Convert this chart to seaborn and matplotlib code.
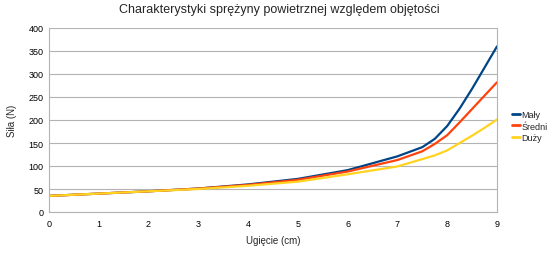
import matplotlib
matplotlib.use("Agg")
import matplotlib.pyplot as plt
import seaborn as sns
import pandas as pd

x_cm = [0, 1, 2, 3, 4, 5, 6, 7, 7.5, 7.75, 8, 8.25, 8.5, 8.75, 9]
maly = [35, 40, 45, 51, 60, 72, 91, 121, 141, 159, 187, 225, 268, 314, 360]
sredni = [35, 40, 45, 51, 59, 70, 88, 113, 132, 148, 167, 195, 224, 253, 282]
duzy = [35, 40, 45, 50, 57, 66, 82, 99, 115, 123, 134, 150, 166, 183, 201]
series_names = ["Mały", "Średni", "Duży"]
colors = ["#004586", "#ff420e", "#ffd320"]

df = pd.concat([
    pd.DataFrame({"x": x_cm, "y": vals, "s": name})
    for name, vals in zip(series_names, [maly, sredni, duzy])
])

sns.set_theme(style="white")
plt.rcParams["font.family"] = ["Liberation Sans", "DejaVu Sans"]

fig = plt.figure(figsize=(5.59, 2.55), dpi=100)
ax = fig.add_axes([49 / 559, 1 - 213 / 255, 448 / 559, 184 / 255])

sns.lineplot(data=df, x="x", y="y", hue="s", palette=colors, ax=ax,
             linewidth=1.6, legend=False, sort=True)

ax.set_xlim(0, 9)
ax.set_ylim(0, 400)
ax.set_xticks(range(0, 10))
ax.set_yticks(range(0, 401, 50))
ax.grid(axis="y", color="#b3b3b3", linewidth=0.8)
ax.set_axisbelow(True)
for side in ["left", "bottom", "right"]:
    ax.spines[side].set_color("#b3b3b3")
    ax.spines[side].set_linewidth(0.8)
ax.spines["top"].set_visible(False)
ax.tick_params(axis="both", direction="out", length=3, width=0.8,
               color="#b3b3b3", labelsize=6.5, pad=2, labelcolor="#000000")
ax.tick_params(axis="y", pad=1)
ax.set_xlabel("Ugięcie (cm)", fontsize=7, labelpad=5)
ax.set_ylabel("Siła (N)", fontsize=7, labelpad=8)
fig.suptitle("Charakterystyki sprężyny powietrznej względem objętości",
             fontsize=9, y=0.985)

from matplotlib.lines import Line2D
handles = [Line2D([0], [0], color=c, linewidth=2) for c in colors]
fig.legend(handles, series_names, loc="center left",
           bbox_to_anchor=(508 / 559, 1 - 127 / 255), frameon=False,
           fontsize=6.5, handlelength=0.9, handletextpad=0.15,
           labelspacing=0.3, borderaxespad=0)

fig.savefig("out.png", dpi=100)
